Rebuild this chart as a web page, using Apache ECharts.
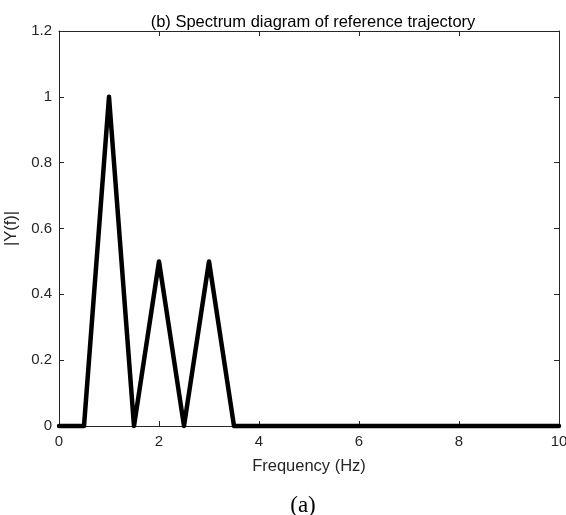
<!DOCTYPE html>
<html>
<head>
<meta charset="utf-8">
<script src="https://cdn.jsdelivr.net/npm/echarts@6/dist/echarts.min.js"></script>
<style>
  html, body { margin: 0; padding: 0; background: #fff; }
  #chart { width: 566px; height: 515px; }
</style>
</head>
<body>
<div id="chart"></div>
<script>
// spectrum samples, 0.5 Hz spacing
const freqs = [0, 0.5, 1, 1.5, 2, 2.5, 3, 3.5, 4, 4.5, 5, 5.5, 6, 6.5, 7, 7.5, 8, 8.5, 9, 9.5, 10]
const amps = [0, 0, 1, 0, 0.5, 0, 0.5, 0, 0, 0, 0, 0, 0, 0, 0, 0, 0, 0, 0, 0, 0]
const xTicks = [0, 2, 4, 6, 8, 10]
const yTicks = [0, 0.2, 0.4, 0.6, 0.8, 1, 1.2]

const axisColor = '#262626'
const font = "'Liberation Sans', Arial, sans-serif"

const chart = echarts.init(document.getElementById('chart'))

const baseX = {
  type: 'value',
  min: xTicks[0],
  max: xTicks[xTicks.length - 1],
  interval: 2,
  axisLine: { show: true, onZero: false, lineStyle: { color: axisColor, width: 1 } },
  axisTick: { show: true, inside: true, length: 5, lineStyle: { color: axisColor } },
  splitLine: { show: false },
}
const baseY = {
  type: 'value',
  min: yTicks[0],
  max: yTicks[yTicks.length - 1],
  interval: 0.2,
  axisLine: { show: true, onZero: false, lineStyle: { color: axisColor, width: 1 } },
  axisTick: { show: true, inside: true, length: 5, lineStyle: { color: axisColor } },
  splitLine: { show: false },
}

chart.setOption({
  backgroundColor: '#fff',
  animation: false,
  title: [
    {
      text: '(b) Spectrum diagram of reference trajectory',
      left: 308, top: 9, textAlign: 'center',
      textStyle: { fontFamily: font, fontSize: 16.5, fontWeight: 'normal', color: '#000' },
    },
    {
      text: '(a)',
      left: 298, top: 489, textAlign: 'center',
      textStyle: { fontFamily: "'Liberation Serif', 'Times New Roman', serif", fontSize: 23, fontWeight: 'normal', color: '#000' },
    },
  ],
  grid: { left: 59, right: 7, top: 31, bottom: 89, outerBoundsMode: 'none', containLabel: false },
  xAxis: [
    {
      ...baseX,
      position: 'bottom',
      name: 'Frequency (Hz)',
      nameLocation: 'middle',
      nameGap: 32,
      nameTextStyle: { fontFamily: font, fontSize: 16.5, color: '#262626' },
      axisLabel: {
        fontFamily: font, fontSize: 15, color: '#262626', margin: 8,
        formatter: (v) => String(v),
      },
    },
    { ...baseX, position: 'top', axisLabel: { show: false } },
  ],
  yAxis: [
    {
      ...baseY,
      position: 'left',
      name: '|Y(f)|',
      nameLocation: 'middle',
      nameGap: 34,
      nameRotate: 90,
      nameTextStyle: { fontFamily: font, fontSize: 16.5, color: '#262626' },
      axisLabel: {
        fontFamily: font, fontSize: 15, color: '#262626', margin: 7,
        formatter: (v) => String(Math.round(v * 10) / 10),
      },
    },
    { ...baseY, position: 'right', axisLabel: { show: false } },
  ],
  series: [
    {
      type: 'line',
      data: freqs.map((f, i) => [f, amps[i]]),
      showSymbol: false,
      clip: false,
      lineStyle: { color: '#000', width: 4.5, join: 'round', cap: 'round' },
    },
  ],
})
</script>
</body>
</html>
